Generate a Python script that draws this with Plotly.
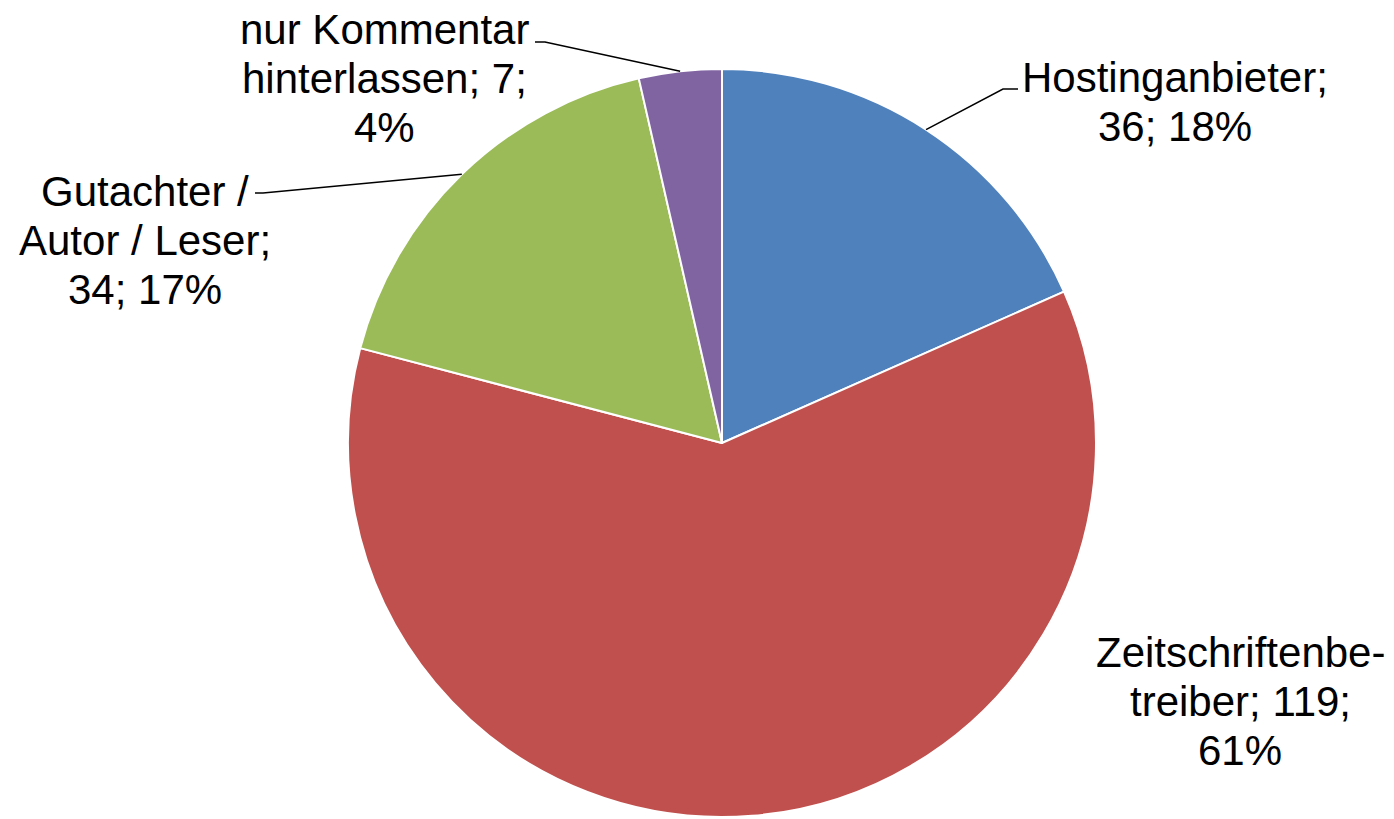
import math
import plotly.graph_objects as go

W, H = 1394, 819

# Daten
labels = ["Hostinganbieter", "Zeitschriftenbetreiber", "Gutachter / Autor / Leser", "nur Kommentar hinterlassen"]
values = [36, 119, 34, 7]
text_lines = [["Hostinganbieter;", "36; 18%"],
              ["Zeitschriftenbe-", "treiber; 119;", "61%"],
              ["Gutachter /", "Autor / Leser;", "34; 17%"],
              ["nur Kommentar", "hinterlassen; 7;", "4%"]]
colors = ["#4F81BD", "#C0504D", "#9BBB59", "#8064A2"]

# Layout (Pixel)
cx, cy, r = 722, 443, 374
FS = 42
LINE = 49
label_x = [1175, 1240, 145, 384]
first_baseline = [88, 663, 202, 40]
leader_end = [(1003, 89, 1018), None, (263, 193, 255), (545, 42, 535)]


def px2paper(x, y):
    return x / W, 1 - y / H


fig = go.Figure(go.Pie(labels=labels, values=values, sort=False, direction="clockwise",
                       rotation=0, textinfo="none", hoverinfo="label+value+percent",
                       marker=dict(colors=colors, line=dict(color="white", width=2)),
                       domain=dict(x=[(cx - r) / W, (cx + r) / W], y=[1 - (cy + r) / H, 1 - (cy - r) / H]),
                       showlegend=False))

total = sum(values)
start = 0
for i, v in enumerate(values):
    mid = (start + v / 2) / total * 2 * math.pi
    start += v
    ex, ey = cx + r * math.sin(mid), cy - r * math.cos(mid)
    for k, line in enumerate(text_lines[i]):
        lx, ly = px2paper(label_x[i], first_baseline[i] + k * LINE - 0.35 * FS + 4)
        fig.add_annotation(x=lx, y=ly, xref="paper", yref="paper", text=line, showarrow=False,
                           xanchor="center", yanchor="middle", align="center",
                           font=dict(family="Liberation Sans, Arial", size=FS, color="black"))
    if leader_end[i]:
        bx, by, hx = leader_end[i]
        p0 = px2paper(ex, ey)
        p1 = px2paper(bx, by)
        p2 = px2paper(hx, by)
        fig.add_shape(type="path", xref="paper", yref="paper",
                      path=f"M {p0[0]},{p0[1]} L {p1[0]},{p1[1]} L {p2[0]},{p2[1]}",
                      line=dict(color="black", width=1.5))

fig.update_layout(width=W, height=H, margin=dict(l=0, r=0, t=0, b=0),
                  paper_bgcolor="white", plot_bgcolor="white")
fig.write_html("out.html", config={"displayModeBar": False},
               post_script="document.body.style.margin='0';")
